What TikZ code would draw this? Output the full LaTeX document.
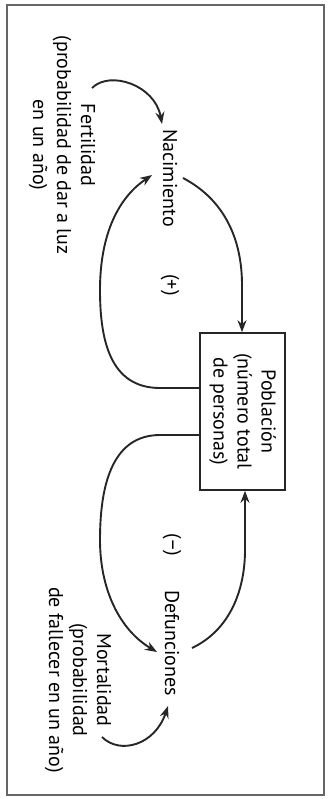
\documentclass[tikz,border=0pt]{standalone}
\usepackage{fontspec}
\setmainfont{PT Sans}
\usetikzlibrary{arrows.meta,calc}
\tikzset{
  lbl/.style={inner sep=0pt, align=center, font=\fontsize{10}{12}\selectfont},
  arr/.style={line width=0.95pt, draw=black!85, -{Stealth[length=6pt,width=4.5pt]}},
  box/.style={draw=black!85, line width=0.8pt, minimum width=42.5pt, minimum height=78.5pt, inner sep=0pt},
  frame/.style={draw=black!60, line width=0.6pt}
}
\begin{document}
\begin{tikzpicture}[x=0.5pt,y=-0.5pt]
\useasboundingbox (0,0) rectangle (334,799);
\draw[frame] (7,5) rectangle (324,795);

\node[box] (pop) at (242.5,411.5) {\rotatebox{-90}{\fontsize{10}{12}\selectfont\begin{tabular}{@{}c@{}}Población\\(número total\\de personas)\end{tabular}}};
\node[lbl] (nac) at (170,178) {\rotatebox{-90}{Nacimiento}};
\node[lbl] (fert) at (62,145) {\rotatebox{-90}{\begin{tabular}{@{}c@{}}Fertilidad\\(probabilidad de dar a luz\\en un año)\end{tabular}}};
\node[lbl] (plus) at (170,285) {\rotatebox{-90}{(+)}};
\node[lbl] (minus) at (172,545) {\rotatebox{-90}{(–)}};
\node[lbl] (def) at (172,643) {\rotatebox{-90}{Defunciones}};
\node[lbl] (mort) at (78,680) {\rotatebox{-90}{\begin{tabular}{@{}c@{}}Mortalidad\\(probabilidad\\de fallecer en un año)\end{tabular}}};

\coordinate (f1) at (92,88);
\coordinate (n1) at (162,124);
\coordinate (n2) at (152,175);
\coordinate (n3) at (183,178);
\coordinate (pl) at (pop.west |- 0,388);
\coordinate (ml) at (pop.west |- 0,435);
\coordinate (pt) at (pop.north -| 242,0);
\coordinate (pb) at (pop.south -| 245,0);
\coordinate (d1) at (157,652);
\coordinate (d2) at (192,648);
\coordinate (m1) at (102,737);
\coordinate (d3) at (168,706);

\draw[arr] (f1) .. controls (110,70) and (155,85) .. (n1);
\draw[arr] (pl) -- (160,388) .. controls (110,388) and (100,340) .. (100,290) .. controls (100,240) and (115,200) .. (n2);
\draw[arr] (n3) .. controls (225,200) and (242,240) .. (242,285) -- (pt);
\draw[arr] (ml) -- (160,435) .. controls (110,435) and (100,490) .. (100,540) .. controls (100,590) and (120,630) .. (d1);
\draw[arr] (d2) .. controls (230,630) and (245,590) .. (245,550) -- (pb);
\draw[arr] (m1) .. controls (120,755) and (155,745) .. (d3);
\end{tikzpicture}
\end{document}
